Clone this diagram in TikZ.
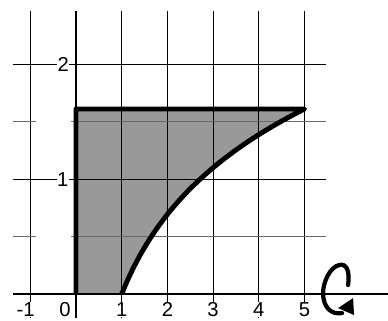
\documentclass[tikz,border=0pt]{standalone}
\usepackage{fontspec}
\setmainfont{Liberation Sans}
\usepackage{tikz}
\usetikzlibrary{calc}
\definecolor{regiongray}{RGB}{153,153,153}
\definecolor{halfgray}{RGB}{105,105,105}
\tikzstyle{gridline} = [draw, black, line width=0.6pt]
\tikzstyle{halfline} = [draw, halfgray, line width=1pt]
\tikzstyle{axisline} = [draw, black, line width=1.6pt]
\tikzstyle{bound} = [draw, black, line width=2.8pt, line join=round]
\tikzstyle{lbl} = [fill=white, inner sep=0.3pt, font=\fontsize{11.5}{13}\selectfont]

\begin{document}
\begin{tikzpicture}[x=0.914cm, y=2.3cm]
    \useasboundingbox (-1.663,-0.226) rectangle (6.827,2.557);

    \fill[regiongray] (0,0) -- (0,{ln(5)}) -- (5,{ln(5)}) -- plot[domain=5:1, samples=60] (\x,{ln(\x)}) -- cycle;

    \foreach \gx in {-1,...,5}
        \draw[gridline] (\gx,-0.21) -- (\gx,2.46);
    \foreach \gy in {1,2}
        \draw[gridline] (-1.38,\gy) -- (5.47,\gy);
    \foreach \gy in {0.5,1.5} {
        \draw[halfline] (-1.38,\gy) -- (-0.88,\gy);
        \draw[halfline] (-0.11,\gy) -- (5.47,\gy);
    }

    \draw[axisline] (-1.38,0) -- (6.83,0);
    \draw[bound] plot[domain=1:5, samples=60] (\x,{ln(\x)}) -- (0,{ln(5)}) -- (0,0);

    \node (ylab2) [lbl] at (-0.28,2) {2};
    \node (ylab1) [lbl] at (-0.29,1) {1};
    \node (xlabm1) [lbl] at (-1.1,-0.138) {-1};
    \node (xlab0) [lbl] at (-0.24,-0.138) {0};
    \foreach \gx in {1,...,5}
        \node (xlab\gx) [lbl] at (\gx,-0.138) {\gx};

    \begin{scope}[x=0.02cm, y=-0.02cm, shift={(-76,-294)}]
        \draw[line width=2.4pt, line cap=round] (348,285) .. controls (350,270) and (346,263) .. (339,265)
            .. controls (330,267) and (323,282) .. (323,293) .. controls (323,307) and (331,315) .. (342,313);
        \fill (338,308) -- (353,298) -- (354,315) -- cycle;
    \end{scope}
\end{tikzpicture}
\end{document}
